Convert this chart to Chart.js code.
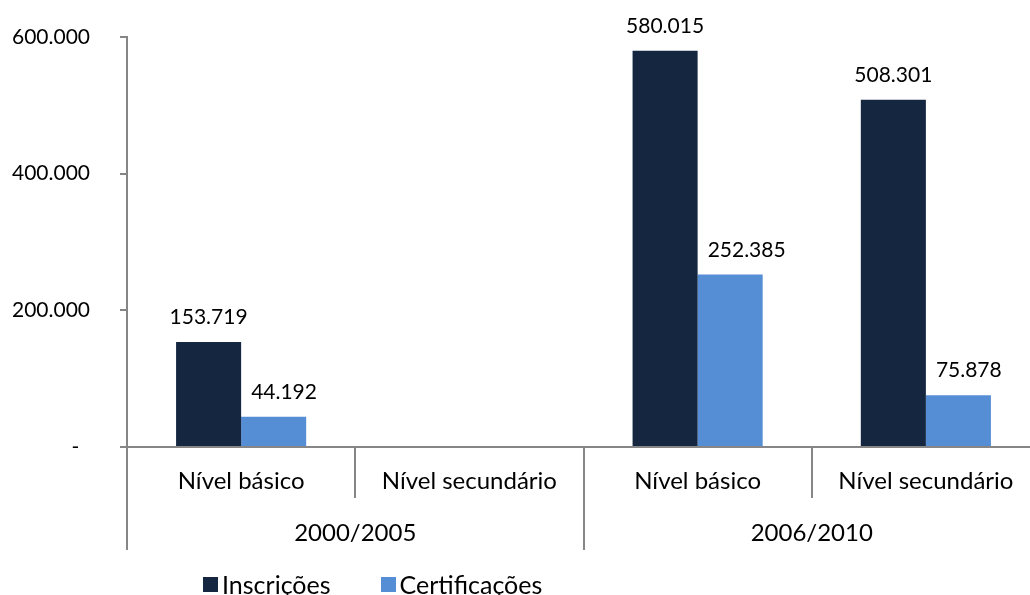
<!DOCTYPE html>
<html>
<head>
<meta charset="utf-8">
<title>Inscrições e certificações</title>
<script src="https://cdn.jsdelivr.net/npm/chart.js@4"></script>
<style>
  body { margin: 0; overflow: hidden; background: #fff; }
  #wrap { position: relative; width: 1045px; height: 595px; }
  #legend {
    position: absolute; left: 203px; top: 571px;
    display: flex; gap: 50px;
    font-family: Lato, "Open Sans", sans-serif; font-size: 25px; color: #000;
    line-height: 26px;
  }
  #legend .item { display: flex; align-items: center; }
  #legend i { display: inline-block; width: 15px; height: 15px; margin-right: 4px; }
</style>
</head>
<body>
<div id="wrap">
  <canvas id="chart" width="1045" height="595"></canvas>
  <div id="legend"></div>
</div>
<script>
const periods = ['2000/2005', '2006/2010'];
const levels = ['Nível básico', 'Nível secundário', 'Nível básico', 'Nível secundário'];
const inscricoes = [153719, null, 580015, 508301];
const certificacoes = [44192, null, 252385, 75878];
const yTicks = [0, 200000, 400000, 600000];

const FONT = 'Lato, "Open Sans", sans-serif';
const AXIS = '#868686';

// 153719 -> "153.719"
function fmt(v) {
  return String(v).replace(/\B(?=(\d{3})+(?!\d))/g, '.');
}

// values printed above each bar; a label is nudged right when it
// would run into the taller bar beside it
const valueLabels = {
  id: 'valueLabels',
  afterDatasetsDraw(chart) {
    const ctx = chart.ctx;
    ctx.save();
    ctx.font = '21px ' + FONT;
    ctx.fillStyle = '#000';
    ctx.textAlign = 'center';
    ctx.textBaseline = 'alphabetic';
    chart.data.datasets.forEach((ds, i) => {
      chart.getDatasetMeta(i).data.forEach((bar, j) => {
        if (ds.data[j] == null) return;
        const text = fmt(ds.data[j]);
        const w = ctx.measureText(text).width;
        let x = bar.x;
        if (i > 0) {
          const prev = chart.getDatasetMeta(i - 1).data[j];
          const prevRight = prev.x + prev.width / 2;
          if (prev.y < bar.y && x - w / 2 < prevRight + 10) x = prevRight + 10 + w / 2;
        }
        ctx.fillText(text, x, bar.y - 18);
      });
    });
    ctx.restore();
  }
};

const chart = new Chart(document.getElementById('chart'), {
  type: 'bar',
  data: {
    labels: levels,
    datasets: [
      { label: 'Inscrições', data: inscricoes, backgroundColor: '#142640' },
      { label: 'Certificações', data: certificacoes, backgroundColor: '#558ED5' }
    ]
  },
  options: {
    responsive: false,
    animation: false,
    categoryPercentage: 0.57,
    barPercentage: 1,
    layout: { padding: { top: 37, right: 5, bottom: 45, left: 0 } },
    plugins: {
      legend: { display: false },
      tooltip: { enabled: false }
    },
    scales: {
      y: {
        min: 0,
        max: 600000,
        afterBuildTicks: (scale) => { scale.ticks = yTicks.map(v => ({ value: v })); },
        afterFit: (scale) => {
          scale.width = 127;
          // the wide label gap should not push the plot down
          scale.paddingTop = 0;
          scale.paddingBottom = 0;
        },
        border: { color: AXIS, width: 2 },
        grid: { drawOnChartArea: false, color: AXIS, lineWidth: 2, tickLength: 7 },
        ticks: {
          padding: 30,
          color: '#000',
          font: { family: FONT, size: 21 },
          callback: (v) => v === 0 ? '-  ' : fmt(v)
        }
      },
      x: {
        weight: 0,
        afterFit: (scale) => { scale.height = 51; },
        border: { color: AXIS, width: 2 },
        grid: { drawOnChartArea: false, offset: true, color: AXIS, lineWidth: 2, tickLength: 51 },
        ticks: {
          padding: -31,
          color: '#000',
          font: { family: FONT, size: 24 },
          maxRotation: 0
        }
      },
      x2: {
        type: 'category',
        labels: periods,
        position: 'bottom',
        weight: 1,
        offset: true,
        afterFit: (scale) => { scale.height = 52; },
        border: { display: false },
        grid: { drawOnChartArea: false, offset: true, color: AXIS, lineWidth: 2, tickLength: 52 },
        ticks: {
          padding: -31,
          color: '#000',
          font: { family: FONT, size: 24 },
          maxRotation: 0
        }
      }
    }
  },
  plugins: [valueLabels]
});

const legendEl = document.getElementById('legend');
chart.data.datasets.forEach((ds) => {
  legendEl.insertAdjacentHTML('beforeend',
    `<span class="item"><i style="background:${ds.backgroundColor}"></i>${ds.label}</span>`);
});
</script>
</body>
</html>
